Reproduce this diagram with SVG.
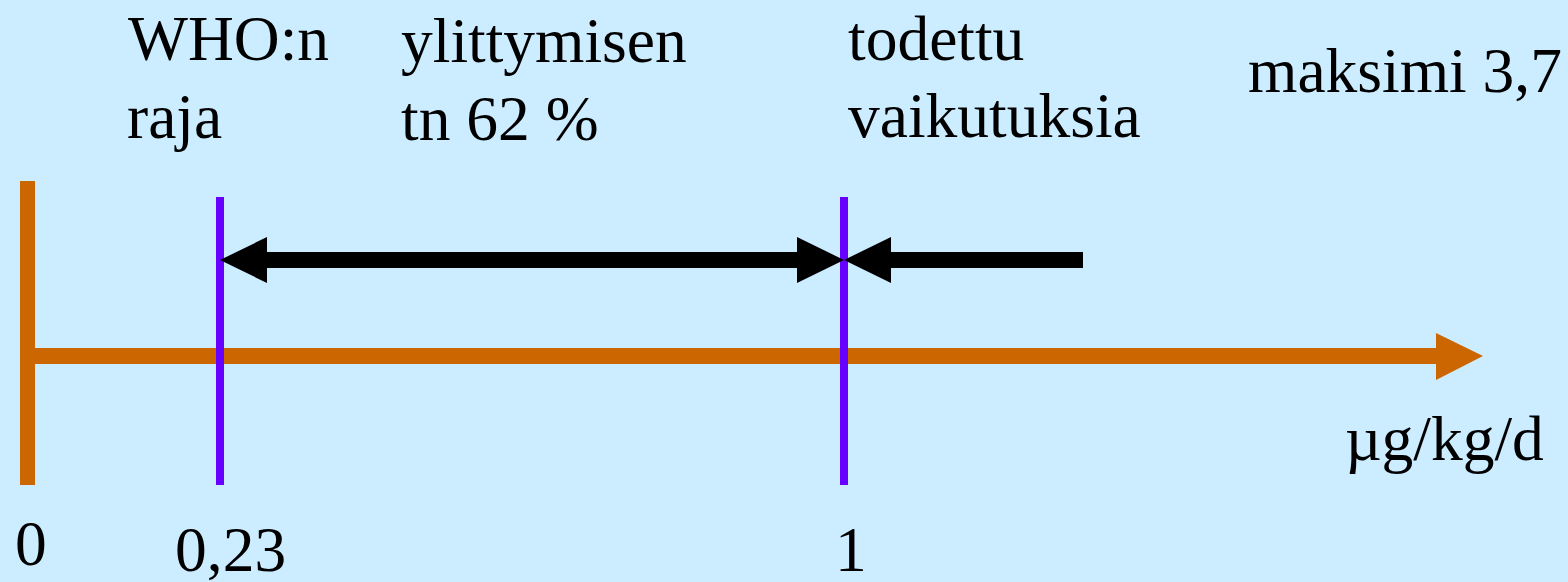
<svg xmlns="http://www.w3.org/2000/svg" width="1568" height="582" viewBox="0 0 1568 582">
<style>
.t{font-family:"Liberation Serif","Times New Roman",serif;font-size:63.5px;fill:#000}
.axis{stroke:#CC6600;stroke-width:16;fill:none}
.mark{stroke:#6600FF;stroke-width:8;fill:none}
.arr{stroke:#000;stroke-width:16;fill:none}
</style>
<rect width="1568" height="582" fill="#CCECFF"/>
<g id="axis">
<line class="axis" x1="27.5" y1="181" x2="27.5" y2="485" style="stroke-width:15"/>
<line class="axis" x1="35" y1="356" x2="1440" y2="356"/>
<polygon points="1436,333 1483,356 1436,380" fill="#CC6600"/>
</g>
<g id="mark-023">
<line class="mark" x1="220" y1="197" x2="220" y2="485"/>
</g>
<g id="mark-1">
<line class="mark" x1="844" y1="197" x2="844" y2="485"/>
</g>
<g id="connectors">
<line class="arr" x1="262" y1="260" x2="800" y2="260"/>
<polygon points="220,260 267,237 267,283" fill="#000"/>
<polygon points="844,260 797,237 797,283" fill="#000"/>
<line class="arr" x1="886" y1="260" x2="1083" y2="260"/>
<polygon points="844,260 891,237 891,283" fill="#000"/>
</g>
<g id="label-who">
<text class="t" x="128" y="60">WHO:n</text>
<text class="t" x="127" y="138">raja</text>
</g>
<g id="label-ylitt">
<text class="t" x="401" y="62">ylittymisen</text>
<text class="t" x="401" y="140">tn 62 %</text>
</g>
<g id="label-todettu">
<text class="t" x="848" y="60">todettu</text>
<text class="t" x="848" y="137">vaikutuksia</text>
</g>
<g id="label-max">
<text class="t" x="1248" y="92">maksimi 3,7</text>
</g>
<g id="label-unit">
<text class="t" x="1345" y="460">µg/kg/d</text>
</g>
<g id="ticks">
<text class="t" x="15" y="565">0</text>
<text class="t" x="175" y="571">0,23</text>
<text class="t" x="835" y="571">1</text>
</g>
</svg>
